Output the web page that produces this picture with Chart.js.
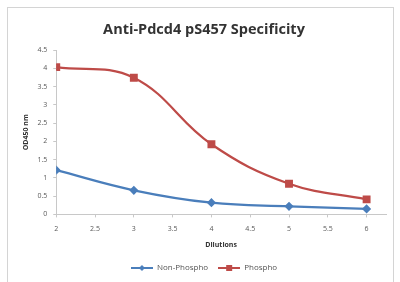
<!DOCTYPE html>
<html>
<head>
<meta charset="utf-8">
<script src="https://cdn.jsdelivr.net/npm/chart.js@4.4.1/dist/chart.umd.min.js"></script>
<style>
  html, body { margin: 0; padding: 0; background: #fff; }
</style>
</head>
<body>
<canvas id="chart" width="400" height="282"></canvas>
<script>
// data
const dilutions = [2, 3, 4, 5, 6];
const nonPhospho = [1.21, 0.66, 0.32, 0.22, 0.15];
const phospho = [4.03, 3.74, 1.92, 0.84, 0.41];
const xTicks = [2, 2.5, 3, 3.5, 4, 4.5, 5, 5.5, 6];
const yTicks = [0, 0.5, 1, 1.5, 2, 2.5, 3, 3.5, 4, 4.5];

const BLUE = '#4a7ebb';
const RED = '#be4b48';
const FONT = "'Open Sans', sans-serif";

// legend swatch: short line with the marker in the middle (Excel style)
function legendSwatch(color, shape) {
  const c = document.createElement('canvas');
  c.width = 22; c.height = 8;
  const g = c.getContext('2d');
  g.strokeStyle = color;
  g.lineWidth = 2;
  g.beginPath(); g.moveTo(0, 4); g.lineTo(22, 4); g.stroke();
  g.fillStyle = color;
  if (shape === 'diamond') {
    g.beginPath(); g.moveTo(11, 1); g.lineTo(14, 4); g.lineTo(11, 7); g.lineTo(8, 4); g.closePath(); g.fill();
  } else {
    g.fillRect(8, 1, 6, 6);
  }
  return c;
}

function pts(ys) {
  return dilutions.map((x, i) => ({ x: x, y: ys[i] }));
}

// outer frame of the chart object
const framePlugin = {
  id: 'frame',
  beforeDraw(chart) {
    const ctx = chart.ctx;
    ctx.save();
    ctx.strokeStyle = '#d4d4d4';
    ctx.lineWidth = 1;
    ctx.strokeRect(7.5, 7.5, 386, 280);
    ctx.restore();
  }
};

const config = {
  type: 'scatter',
  data: {
    datasets: [{
      label: 'Non-Phospho',
      data: pts(nonPhospho),
      showLine: true,
      tension: 0.4,
      borderColor: BLUE,
      backgroundColor: BLUE,
      borderWidth: 2.25,
      pointStyle: 'rectRot',
      pointRadius: 3,
      legendImg: legendSwatch(BLUE, 'diamond')
    }, {
      label: 'Phospho',
      data: pts(phospho),
      showLine: true,
      tension: 0.4,
      borderColor: RED,
      backgroundColor: RED,
      borderWidth: 2.25,
      pointStyle: 'rect',
      pointRadius: 4,
      legendImg: legendSwatch(RED, 'square')
    }]
  },
  options: {
    responsive: false,
    animation: false,
    layout: { padding: { left: 22, right: 14, top: 0, bottom: 0 } },
    plugins: {
      title: {
        display: true,
        text: 'Anti-Pdcd4 pS457 Specificity',
        color: '#333',
        font: { family: FONT, size: 14.5, weight: 'bold' },
        padding: { top: 21, bottom: 11.6 }
      },
      legend: {
        position: 'bottom',
        labels: {
          usePointStyle: true,
          pointStyleWidth: 22,
          color: '#555',
          font: { family: FONT, size: 8 },
          padding: 10,
          generateLabels(chart) {
            return chart.data.datasets.map((ds, i) => ({
              text: ds.label,
              pointStyle: ds.legendImg,
              fontColor: '#555',
              datasetIndex: i,
              hidden: false,
              lineWidth: 0
            }));
          }
        }
      },
      tooltip: { enabled: false }
    },
    scales: {
      x: {
        type: 'linear',
        min: 2,
        max: 6.25,
        afterBuildTicks: (scale) => { scale.ticks = xTicks.map(v => ({ value: v })); },
        ticks: { color: '#595959', font: { family: FONT, size: 7 }, padding: 7.5, callback: v => String(v) },
        grid: { drawOnChartArea: false, tickLength: 3, color: '#c8c8c8' },
        border: { color: '#c8c8c8' },
        title: {
          display: true,
          text: 'Dilutions',
          color: '#333',
          font: { family: FONT, size: 7, weight: 'bold' },
          padding: { top: 0, bottom: 4.8 }
        }
      },
      y: {
        min: 0,
        max: 4.5,
        afterBuildTicks: (scale) => { scale.ticks = yTicks.map(v => ({ value: v })); },
        ticks: { color: '#595959', font: { family: FONT, size: 7 }, padding: 6, callback: v => String(v) },
        grid: { drawOnChartArea: false, tickLength: 3, color: '#c8c8c8' },
        border: { color: '#c8c8c8' },
        title: {
          display: true,
          text: 'OD450 nm',
          color: '#333',
          font: { family: FONT, size: 7, weight: 'bold' },
          padding: { top: 0, bottom: 1 }
        }
      }
    }
  },
  plugins: [framePlugin]
};

new Chart(document.getElementById('chart').getContext('2d'), config);
</script>
</body>
</html>
